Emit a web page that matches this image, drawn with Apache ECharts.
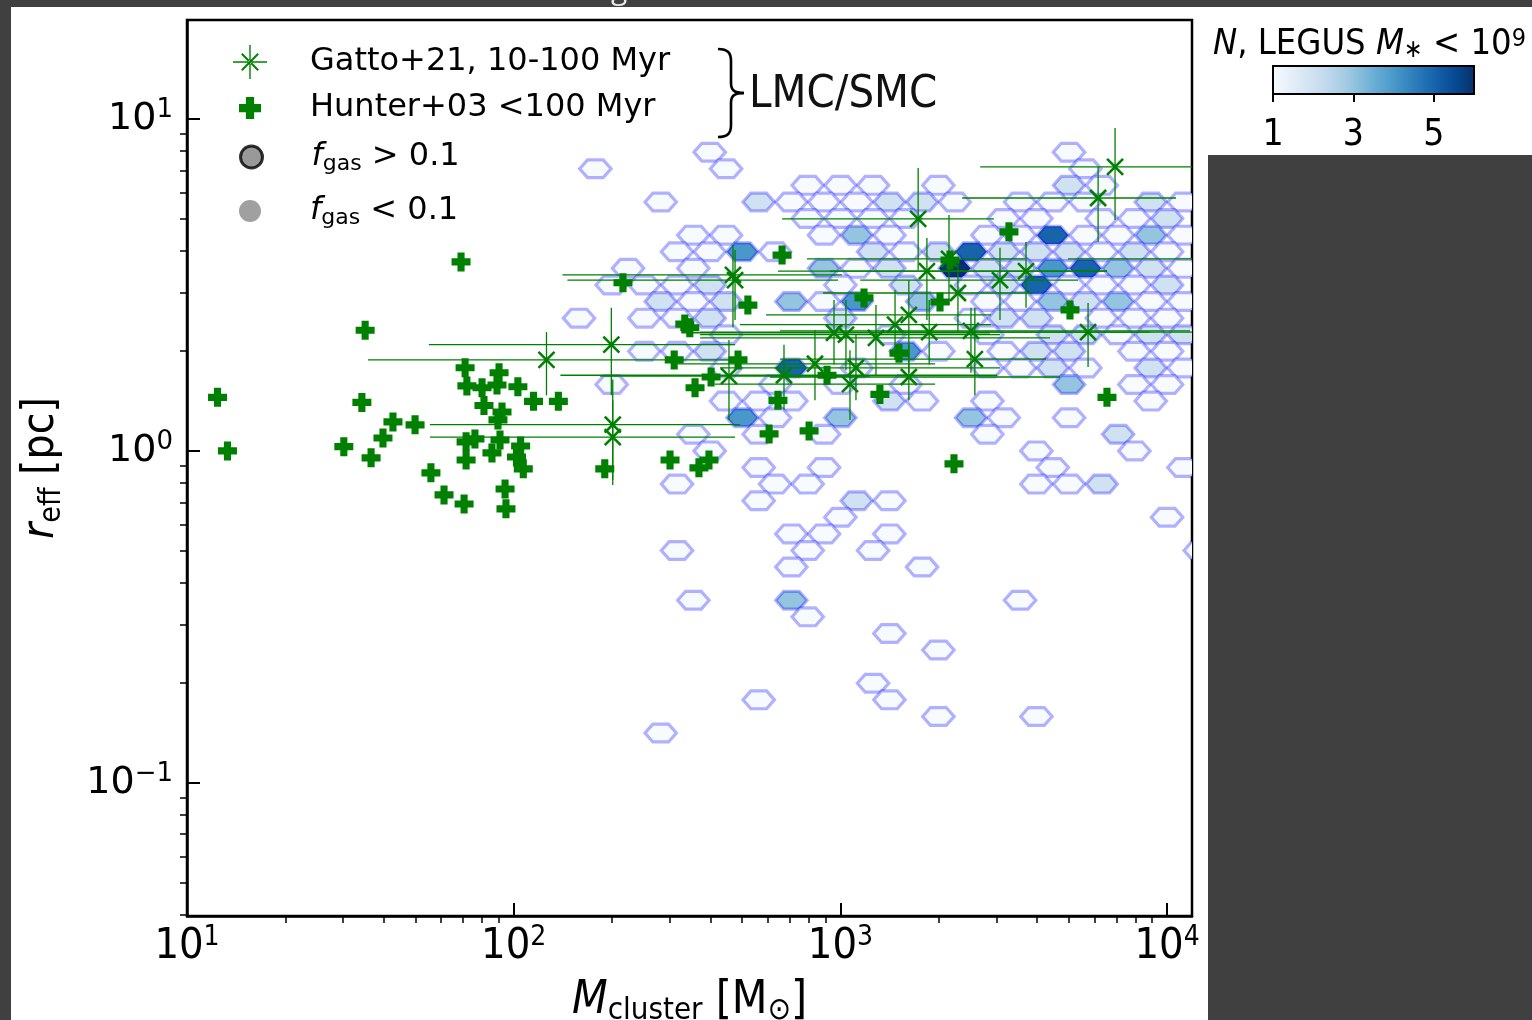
<!DOCTYPE html>
<html>
<head>
<meta charset="utf-8">
<script src="https://cdn.jsdelivr.net/npm/echarts@6/dist/echarts.min.js"></script>
<style>
html,body{margin:0;padding:0;background:#404040;}
#wrap{position:relative;width:1532px;height:1020px;overflow:hidden;}
.panel{position:absolute;background:#fff;}
#chart{position:absolute;left:0;top:0;width:1532px;height:1020px;}
</style>
</head>
<body>
<div id="wrap">
  <div class="panel" style="left:11px;top:7px;width:1197px;height:1013px;"></div>
  <div class="panel" style="left:1208px;top:7px;width:324px;height:148px;"></div>
  <div id="chart"></div>
</div>
<script>
// ---------------- DATA ----------------
// Gatto+21 (10-100 Myr) clusters: mass, r_eff and error-bar bounds
const gattoMass   = [6930, 6150, 1730, 469, 476, 2150, 1840, 3080, 3700, 2290, 1620, 1470, 1870, 2510, 5730, 956, 1040, 1285, 199, 126, 2580, 836, 672, 456, 1070, 1116, 1620, 201, 201, 19300];
const gattoReff   = [7.17, 5.78, 5.00, 3.39, 3.27, 3.79, 3.48, 3.27, 3.48, 2.99, 2.57, 2.40, 2.28, 2.30, 2.28, 2.27, 2.24, 2.19, 2.09, 1.88, 1.89, 1.83, 1.69, 1.68, 1.59, 1.78, 1.67, 1.20, 1.10, 3.79];
const gattoMassLo = [2680, 2360, 663, 141, 146, 790, 644, 1150, 929, 885, 592, 493, 372, 653, 1320, 337, 372, 372, 55.0, 35.8, 653, 318, 139, 184, 413, 428, 609, 55.4, 55.4, 4970];
const gattoMassHi = [17900, 10650, 2950, 1010, 983, 3670, 6550, 5340, 6550, 3890, 2890, 2890, 8870, 11750, 25500, 2870, 3080, 4380, 476, 459, 4260, 1950, 3020, 1230, 1950, 3080, 4700, 493, 476, 60000];
const gattoReffLo = [4.96, 4.26, 3.51, 2.36, 2.48, 2.75, 2.48, 2.48, 2.70, 2.28, 1.72, 1.88, 1.82, 1.72, 1.79, 1.82, 1.75, 1.69, 1.47, 1.47, 1.47, 1.42, 1.33, 1.24, 1.24, 1.42, 1.42, 0.818, 0.79, 3.0];
const gattoReffHi = [9.40, 7.17, 7.12, 4.17, 4.03, 5.14, 4.38, 4.09, 4.26, 3.71, 3.27, 3.05, 2.85, 2.70, 2.79, 2.85, 2.85, 2.75, 2.70, 2.28, 2.70, 2.31, 2.09, 2.16, 2.01, 2.24, 2.09, 1.64, 1.42, 4.8];

// Hunter+03 (<100 Myr) clusters
const hunterMass = [69.0, 35.1, 12.4, 34.3, 13.3, 30.2, 36.6, 39.8, 42.7, 49.9, 55.8, 61.2, 70.5, 94.1, 94.7, 71.0, 71.9, 80.0, 90.2, 88.9, 103, 115, 137, 81.1, 92.1, 89.5, 71.5, 76.1, 85.8, 90.8, 105, 102, 107, 71.5, 190, 216, 301, 369, 396, 2227, 605, 802, 3281, 663, 521, 334, 346, 1181, 2018, 2165, 5044, 1511, 310, 486, 402, 359, 644, 910, 1321, 6546];
const hunterReff = [3.71, 2.31, 1.45, 1.40, 1.00, 1.03, 0.953, 1.094, 1.223, 1.198, 0.859, 0.737, 0.692, 0.768, 0.669, 1.78, 1.57, 1.55, 1.72, 1.58, 1.56, 1.41, 1.41, 1.37, 1.31, 1.24, 1.065, 1.087, 0.986, 1.079, 1.035, 0.959, 0.883, 0.939, 0.883, 3.21, 0.939, 0.889, 0.939, 0.914, 1.125, 1.149, 4.57, 3.89, 2.75, 2.41, 2.35, 2.89, 2.81, 3.76, 2.66, 1.97, 1.88, 1.88, 1.67, 1.55, 1.42, 1.69, 1.48, 1.45];

// LEGUS hexbin cells: [log10 M centre, log10 r_eff centre, N]
const hexBins = [
 [2.6,0.9,1],[3.7,0.9,1],
 [2.25,0.85,1],[2.65,0.85,1],[3.75,0.85,1],
 [2.9,0.8,1],[3.0,0.8,1],[3.1,0.8,1],[3.3,0.8,1],[3.7,0.8,2],[3.8,0.8,1],
 [2.45,0.75,1],[2.75,0.75,2],[2.85,0.75,1],[2.95,0.75,1],[3.05,0.75,1],[3.15,0.75,2],[3.25,0.75,2],[3.35,0.75,1],[3.55,0.75,1],[3.65,0.75,1],[3.75,0.75,1],[3.95,0.75,2],[4.05,0.75,1],
 [2.9,0.7,1],[3.0,0.7,1],[3.1,0.7,1],[3.2,0.7,1],[3.5,0.7,1],[3.6,0.7,1],[3.8,0.7,1],[3.9,0.7,1],[4.0,0.7,2],
 [2.55,0.65,1],[2.65,0.65,1],[2.95,0.65,1],[3.05,0.65,3],[3.15,0.65,1],[3.45,0.65,1],[3.55,0.65,1],[3.65,0.65,5],[3.75,0.65,1],[3.85,0.65,1],[3.95,0.65,3],[4.05,0.65,1],
 [2.5,0.6,1],[2.6,0.6,1],[2.7,0.6,4],[2.8,0.6,1],[3.1,0.6,2],[3.2,0.6,1],[3.3,0.6,2],[3.4,0.6,5],[3.5,0.6,2],[3.6,0.6,2],[3.7,0.6,2],[3.8,0.6,1],[3.9,0.6,2],[4.0,0.6,1],
 [2.35,0.55,1],[2.55,0.55,1],[2.95,0.55,3],[3.05,0.55,1],[3.15,0.55,2],[3.35,0.55,6],[3.45,0.55,2],[3.55,0.55,2],[3.65,0.55,4],[3.75,0.55,5],[3.85,0.55,3],[3.95,0.55,2],[4.05,0.55,1],
 [2.3,0.5,1],[2.4,0.5,1],[2.5,0.5,1],[2.6,0.5,2],[3.0,0.5,1],[3.2,0.5,2],[3.4,0.5,1],[3.5,0.5,2],[3.6,0.5,5],[3.7,0.5,1],[3.8,0.5,1],[3.9,0.5,1],[4.0,0.5,2],
 [2.45,0.45,2],[2.55,0.45,1],[2.65,0.45,2],[2.85,0.45,3],[2.95,0.45,1],[3.05,0.45,4],[3.25,0.45,3],[3.45,0.45,1],[3.55,0.45,1],[3.65,0.45,3],[3.75,0.45,2],[3.85,0.45,3],[3.95,0.45,1],[4.05,0.45,1],
 [2.2,0.4,1],[2.4,0.4,1],[2.5,0.4,1],[2.6,0.4,2],[3.0,0.4,2],[3.4,0.4,1],[3.5,0.4,2],[3.6,0.4,2],[3.8,0.4,1],[3.9,0.4,1],[4.0,0.4,1],
 [2.65,0.35,1],[3.15,0.35,1],[3.45,0.35,1],[3.65,0.35,2],[3.75,0.35,2],[3.85,0.35,1],[3.95,0.35,2],[4.05,0.35,2],
 [2.4,0.3,1],[2.5,0.3,1],[2.6,0.3,2],[3.2,0.3,4],[3.3,0.3,1],[3.5,0.3,1],[3.6,0.3,2],[3.7,0.3,2],[3.9,0.3,1],[4.0,0.3,1],
 [2.65,0.25,1],[2.85,0.25,5],[3.05,0.25,1],[3.45,0.25,1],[3.55,0.25,1],[3.65,0.25,2],[3.75,0.25,1],[3.95,0.25,2],[4.05,0.25,1],
 [2.3,0.2,1],[2.8,0.2,1],[3.0,0.2,1],[3.2,0.2,1],[3.7,0.2,3],[3.9,0.2,1],[4.0,0.2,1],
 [2.65,0.15,1],[2.75,0.15,1],[2.85,0.15,1],[3.15,0.15,2],[3.25,0.15,1],[3.45,0.15,1],[3.95,0.15,1],
 [2.7,0.1,4],[2.8,0.1,1],[3.0,0.1,3],[3.4,0.1,3],[3.5,0.1,1],[3.7,0.1,1],
 [2.55,0.05,1],[2.75,0.05,1],[2.95,0.05,1],[3.45,0.05,1],[3.85,0.05,2],
 [2.6,0,1],[3.6,0,1],[3.9,0,1],
 [2.75,-0.05,1],[2.95,-0.05,1],[3.65,-0.05,1],[4.05,-0.05,1],
 [2.5,-0.1,1],[2.8,-0.1,1],[2.9,-0.1,1],[3.6,-0.1,1],[3.7,-0.1,1],[3.8,-0.1,2],
 [2.75,-0.15,1],[3.05,-0.15,2],[3.15,-0.15,1],
 [3.0,-0.2,1],[4.0,-0.2,1],
 [2.85,-0.25,1],[2.95,-0.25,1],[3.15,-0.25,1],
 [2.5,-0.3,1],[2.9,-0.3,1],[3.1,-0.3,1],[4.1,-0.3,1],
 [2.85,-0.35,1],[3.25,-0.35,1],
 [2.55,-0.45,1],[2.85,-0.45,3],[3.55,-0.45,1],
 [2.9,-0.5,1],
 [3.15,-0.55,1],
 [3.3,-0.6,1],
 [3.1,-0.7,1],
 [2.75,-0.75,1],[3.15,-0.75,1],
 [3.3,-0.8,1],[3.6,-0.8,1],
 [2.45,-0.85,1]
];

// Axis ticks
const xMajor = [10, 100, 1000, 10000];
const yMajor = [0.1, 1, 10];
const cbarTicks = [1, 3, 5];
const cbarMin = 1, cbarMax = 6;

// ---------------- HELPERS ----------------
const BLUES = ['#f7fbff','#deebf7','#c6dbef','#9ecae1','#6baed6','#4292c6','#2171b5','#08519c','#08306b'];
function hex2rgb(h){return [parseInt(h.slice(1,3),16),parseInt(h.slice(3,5),16),parseInt(h.slice(5,7),16)];}
function blues(t){
  t = Math.max(0, Math.min(1, t));
  const p = t * (BLUES.length - 1), i = Math.min(BLUES.length - 2, Math.floor(p)), f = p - i;
  const a = hex2rgb(BLUES[i]), b = hex2rgb(BLUES[i+1]);
  return 'rgb(' + a.map((v,k)=>Math.round(v + (b[k]-v)*f)).join(',') + ')';
}
function minorTicks(lo, hi){
  const out = [];
  for (let e = Math.floor(Math.log10(lo)); e <= Math.ceil(Math.log10(hi)); e++){
    for (let m = 2; m <= 9; m++){ const v = m * Math.pow(10, e); if (v > lo * 1.001 && v < hi * 0.999) out.push(v); }
  }
  return out;
}
const X_MIN = 10, X_MAX = 11920, Y_MIN = 0.0397, Y_MAX = 19.87;
const GREEN = '#008000';
const COND = "'DejaVu Sans Condensed','DejaVu Sans'";
const supFmt = v => { const e = Math.round(Math.log10(v)); return '10{sup|' + (e < 0 ? '\u2212' + (-e) : e) + '}'; };

const hexData = hexBins.map(b => [Math.pow(10, b[0]), Math.pow(10, b[1]), b[2]]);
const gattoData = gattoMass.map((m, i) => [m, gattoReff[i], gattoMassLo[i], gattoMassHi[i], gattoReffLo[i], gattoReffHi[i]]);
const hunterData = hunterMass.map((m, i) => [m, hunterReff[i]]);

// hexagon (flat top) offsets in dex
const HW = 0.0482, QW = 0.0241, HH = 0.0268;
const HEX = [[-HW,0],[-QW,HH],[QW,HH],[HW,0],[QW,-HH],[-QW,-HH]];

const PLUS = 'path://M-3.6,-9.6H3.6V-3.6H9.6V3.6H3.6V9.6H-3.6V3.6H-9.6V-3.6H-3.6Z';
const ASTER = 'path://M-17,-0.7H17V0.7H-17Z M-0.7,-17H0.7V17H-0.7Z M-8.9,-7.5L7.5,8.9L8.9,7.5L-7.5,-8.9Z M-8.9,7.5L7.5,-8.9L8.9,-7.5L-7.5,8.9Z';

const chart = echarts.init(document.getElementById('chart'), null, {renderer:'canvas'});

const legendFmt = name => name.indexOf('f_gas') === 0 ? '{i|f}{s|gas}' + name.slice(5) : name;
function mkLegend(name, icon, rowY, size, itemStyle){
  const left = 250 - size / 2;
  const pad = 310 - (left + size + 5);
  return {show: true, orient: 'vertical', left: left, top: rowY - 18, padding: 0, itemWidth: size, itemHeight: size,
    selectedMode: false, formatter: legendFmt,
    textStyle: {fontSize: 32, fontFamily: 'DejaVu Sans', color: '#000', lineHeight: 36, padding: [0, 0, 0, pad],
      rich: { i: {fontSize: 32, fontStyle: 'italic', fontFamily: 'DejaVu Sans', color:'#000', lineHeight: 36},
              s: {fontSize: 22, fontFamily: 'DejaVu Sans', verticalAlign: 'bottom', lineHeight: 21, color:'#000'} } },
    data: [Object.assign({name: name, icon: icon}, itemStyle ? {itemStyle: itemStyle} : {})]};
}
const BR = {stroke: '#000', lineWidth: 2.6, fill: 'none'};

const option = {
  backgroundColor: 'transparent',
  animation: false,
  grid: [
    {left: 187, top: 20, width: 1005, height: 896, show: true, borderColor: '#000', borderWidth: 2.5, backgroundColor: 'transparent', containLabel: false, outerBoundsMode: 'none'},
    {left: 1273, top: 66, width: 201, height: 28, show: false, containLabel: false, outerBoundsMode: 'none'}
  ],
  xAxis: [
    {type: 'log', logBase: 10, gridIndex: 0, min: X_MIN, max: X_MAX,
     axisLine: {show: true, lineStyle: {color: '#000', width: 2.5}},
     axisTick: {show: true, inside: true, length: 13, lineStyle: {color: '#000', width: 2}, customValues: xMajor},
     axisLabel: {customValues: xMajor, formatter: supFmt, margin: 8, color: '#000', fontSize: 43, lineHeight: 46,
       fontFamily: COND,
       rich: {sup: {fontSize: 28, lineHeight: 28, verticalAlign: 'top', fontFamily: COND, color:'#000'}}},
     splitLine: {show: false},
     name: '{i|M}{s|cluster} [M{s|\u2299}]', nameLocation: 'middle', nameGap: 52,
     nameTextStyle: {fontSize: 46, fontFamily: COND, color: '#000', lineHeight: 52,
       rich: {i: {fontSize: 46, fontStyle: 'italic', fontFamily: COND, color:'#000'},
              s: {fontSize: 31, verticalAlign: 'bottom', lineHeight: 27, fontFamily: COND, color:'#000'}}}
    },
    {type: 'log', logBase: 10, gridIndex: 0, min: X_MIN, max: X_MAX, position: 'bottom',
     axisLine: {show: false}, axisLabel: {show: false}, splitLine: {show: false},
     axisTick: {show: true, inside: false, length: 7, lineStyle: {color: '#000', width: 1.5}, customValues: minorTicks(X_MIN, X_MAX)}
    },
    {type: 'value', gridIndex: 1, min: cbarMin, max: cbarMax,
     axisLine: {show: false}, splitLine: {show: false},
     axisTick: {show: true, inside: false, length: 8, lineStyle: {color: '#000', width: 2}, customValues: cbarTicks},
     axisLabel: {customValues: cbarTicks, margin: 23, color: '#000', fontSize: 37, fontFamily: COND}
    }
  ],
  yAxis: [
    {type: 'log', logBase: 10, gridIndex: 0, min: Y_MIN, max: Y_MAX,
     axisLine: {show: true, lineStyle: {color: '#000', width: 2.5}},
     axisTick: {show: true, inside: true, length: 13, lineStyle: {color: '#000', width: 2}, customValues: yMajor},
     axisLabel: {customValues: yMajor, formatter: supFmt, margin: 14, color: '#000', fontSize: 38, lineHeight: 44,
       fontFamily: 'DejaVu Sans',
       rich: {sup: {fontSize: 26, lineHeight: 26, verticalAlign: 'top', fontFamily: 'DejaVu Sans', color:'#000'}}},
     splitLine: {show: false},
     name: '{i|r}{s|eff} [pc]', nameLocation: 'middle', nameGap: 120, nameRotate: 90,
     nameTextStyle: {fontSize: 44, fontFamily: COND, color: '#000', lineHeight: 50,
       rich: {i: {fontSize: 44, fontStyle: 'italic', fontFamily: COND, color:'#000'},
              s: {fontSize: 30, verticalAlign: 'bottom', lineHeight: 26, fontFamily: COND, color:'#000'}}}
    },
    {type: 'log', logBase: 10, gridIndex: 0, min: Y_MIN, max: Y_MAX, position: 'left',
     axisLine: {show: false}, axisLabel: {show: false}, splitLine: {show: false},
     axisTick: {show: true, inside: false, length: 7, lineStyle: {color: '#000', width: 1.5}, customValues: minorTicks(Y_MIN, Y_MAX)}
    },
    {type: 'value', gridIndex: 1, min: 0, max: 1, show: false}
  ],
  legend: [
    mkLegend('Gatto+21, 10-100 Myr', ASTER, 62, 34, {color: GREEN}),
    mkLegend('Hunter+03 <100 Myr', PLUS, 108, 22, {color: GREEN}),
    mkLegend('f_gas > 0.1', 'circle', 157, 22, {color: '#808080', borderColor: '#000', borderWidth: 3}),
    mkLegend('f_gas < 0.1', 'circle', 211, 22, {color: '#888888'})
  ],
  series: [
    {type: 'custom', name: 'LEGUS', xAxisIndex: 0, yAxisIndex: 0, clip: true, z: 1,
     data: hexData, encode: {x: 0, y: 1},
     renderItem: function(params, api){
       const lx = Math.log10(api.value(0)), ly = Math.log10(api.value(1)), n = api.value(2);
       const pts = HEX.map(d => api.coord([Math.pow(10, lx + d[0]), Math.pow(10, ly + d[1])]));
       return {type: 'polygon', shape: {points: pts},
               style: {fill: blues((n - cbarMin) / (cbarMax - cbarMin)), stroke: 'rgba(0,0,255,0.3)', lineWidth: 3.2}};
     }},
    {type: 'custom', name: 'Gatto+21, 10-100 Myr', xAxisIndex: 0, yAxisIndex: 0, clip: true, z: 3,
     itemStyle: {color: GREEN},
     data: gattoData, encode: {x: [0, 2, 3], y: [1, 4, 5]},
     renderItem: function(params, api){
       const m = api.value(0), r = api.value(1);
       const c = api.coord([m, r]);
       const xl = api.coord([api.value(2), r]), xh = api.coord([api.value(3), r]);
       const yl = api.coord([m, api.value(4)]), yh = api.coord([m, api.value(5)]);
       const s = 8, thin = {stroke: GREEN, lineWidth: 1.3}, thick = {stroke: GREEN, lineWidth: 2.6};
       return {type: 'group', children: [
         {type: 'line', shape: {x1: xl[0], y1: c[1], x2: xh[0], y2: c[1]}, style: thin},
         {type: 'line', shape: {x1: c[0], y1: yl[1], x2: c[0], y2: yh[1]}, style: thin},
         {type: 'line', shape: {x1: c[0]-s, y1: c[1]-s, x2: c[0]+s, y2: c[1]+s}, style: thick},
         {type: 'line', shape: {x1: c[0]-s, y1: c[1]+s, x2: c[0]+s, y2: c[1]-s}, style: thick}
       ]};
     }},
    {type: 'scatter', name: 'Hunter+03 <100 Myr', xAxisIndex: 0, yAxisIndex: 0, z: 4,
     symbol: PLUS, symbolSize: 19, itemStyle: {color: GREEN, opacity: 1}, data: hunterData},
    {type: 'scatter', name: 'f_gas > 0.1', xAxisIndex: 0, yAxisIndex: 0, data: [],
     itemStyle: {color: '#808080', borderColor: '#000', borderWidth: 3}},
    {type: 'scatter', name: 'f_gas < 0.1', xAxisIndex: 0, yAxisIndex: 0, data: [],
     itemStyle: {color: '#888888'}},
    {type: 'custom', name: 'colorbar', xAxisIndex: 2, yAxisIndex: 2, z: 2, silent: true,
     data: [[cbarMin, 0, cbarMax, 1]],
     renderItem: function(params, api){
       const p0 = api.coord([api.value(0), api.value(3)]), p1 = api.coord([api.value(2), api.value(1)]);
       const stops = [];
       for (let k = 0; k <= 20; k++) stops.push({offset: k / 20, color: blues(k / 20)});
       return {type: 'rect', shape: {x: p0[0], y: p0[1], width: p1[0] - p0[0], height: p1[1] - p0[1]},
               style: {fill: {type: 'linear', x: 0, y: 0, x2: 1, y2: 0, colorStops: stops}, stroke: '#000', lineWidth: 2}};
     }}
  ],
  graphic: [
    {type: 'bezierCurve', z: 10, shape: {x1: 718, y1: 49, cpx1: 728, cpy1: 49, cpx2: 731, cpy2: 53, x2: 731, y2: 61}, style: BR},
    {type: 'line', z: 10, shape: {x1: 731, y1: 61, x2: 731, y2: 83}, style: BR},
    {type: 'bezierCurve', z: 10, shape: {x1: 731, y1: 83, cpx1: 731, cpy1: 90, cpx2: 734, cpy2: 93, x2: 744, y2: 93}, style: BR},
    {type: 'bezierCurve', z: 10, shape: {x1: 744, y1: 93, cpx1: 734, cpy1: 93, cpx2: 731, cpy2: 96, x2: 731, y2: 103}, style: BR},
    {type: 'line', z: 10, shape: {x1: 731, y1: 103, x2: 731, y2: 125}, style: BR},
    {type: 'bezierCurve', z: 10, shape: {x1: 731, y1: 125, cpx1: 731, cpy1: 133, cpx2: 728, cpy2: 137, x2: 718, y2: 137}, style: BR},
    {type: 'text', z: 10, x: 749, y: 95,
     style: {text: 'LMC/SMC', fontSize: 45, fontFamily: COND, fill: '#111', textVerticalAlign: 'middle', textAlign: 'left'}},
    {type: 'text', z: 10, x: 1213, y: 45,
     style: {text: '{i|N}, LEGUS {i|M}{s|\u2217} < 10{p|9}', fontSize: 36, fontFamily: COND, fill: '#000',
       textVerticalAlign: 'middle', textAlign: 'left',
       rich: {i: {fontSize: 36, fontStyle: 'italic', fontFamily: COND, fill: '#000'},
              s: {fontSize: 25, verticalAlign: 'bottom', lineHeight: 22, fontFamily: COND, fill: '#000'},
              p: {fontSize: 25, verticalAlign: 'top', lineHeight: 22, fontFamily: COND, fill: '#000'}}}},
    {type: 'text', z: 10, x: 611, y: 5,
     style: {text: 'g', fontSize: 30, fontFamily: "'Open Sans', sans-serif", fill: '#e8e8e8', textVerticalAlign: 'bottom', textAlign: 'left'}}
  ]
};
chart.setOption(option);
</script>
</body>
</html>
